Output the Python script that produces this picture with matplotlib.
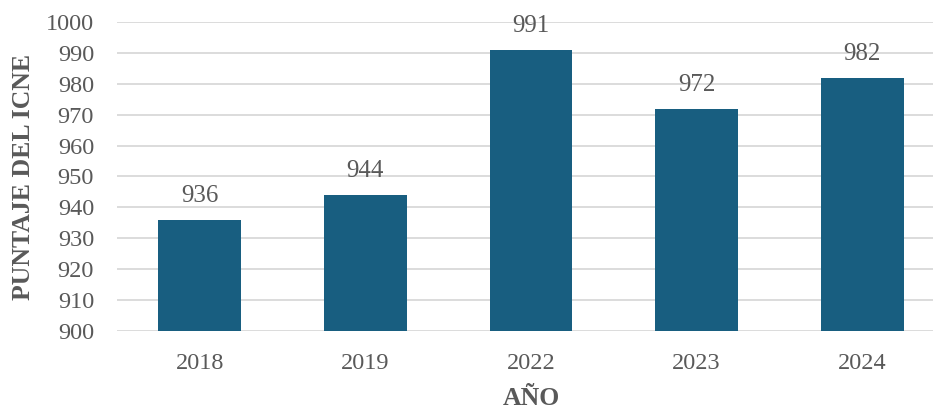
import matplotlib.pyplot as plt

years = ["2018", "2019", "2022", "2023", "2024"]
scores = [936, 944, 991, 972, 982]
y_ticks = list(range(900, 1001, 10))

plt.rcParams['font.family'] = ['Liberation Serif', 'DejaVu Serif']

fig = plt.figure(figsize=(9.33, 4.11), dpi=100)
ax = fig.add_axes([117 / 933, 1 - 331 / 411, 828 / 933, 309 / 411])

bar_color = "#185E80"
text_color = "#595959"

bars = ax.bar(years, [s - 900 for s in scores], bottom=900, width=0.5,
              color=bar_color, zorder=3)
for rect, s in zip(bars, scores):
    ax.text(rect.get_x() + rect.get_width() / 2, s + 5.8, str(s),
            ha="center", va="baseline", fontsize=18, color=text_color)

ax.set_ylim(900, 1000)
ax.set_xlim(-0.5, 4.5)
ax.set_yticks(y_ticks)
ax.grid(axis="y", color="#D9D9D9", linewidth=1.3, zorder=0)
ax.set_axisbelow(True)
for sp in ax.spines.values():
    sp.set_visible(False)
ax.tick_params(axis="both", length=0, labelsize=17.5, labelcolor=text_color)
ax.tick_params(axis="y", pad=16.5)
ax.tick_params(axis="x", pad=16)

ax.set_xlabel("AÑO", fontsize=18.5, fontweight="bold", color=text_color, labelpad=9)
ax.set_ylabel("PUNTAJE DEL ICNE", fontsize=18.5, fontweight="bold", color=text_color, labelpad=8)

fig.savefig("out.png", dpi=100)
